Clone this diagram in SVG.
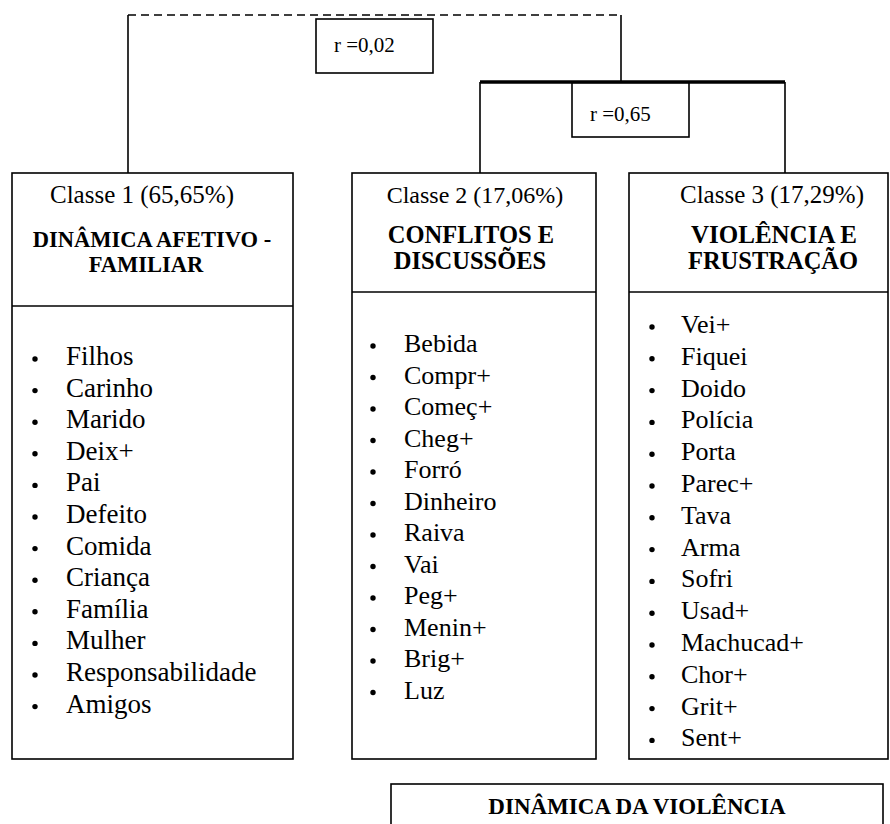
<svg xmlns="http://www.w3.org/2000/svg" width="890" height="824" viewBox="0 0 890 824">
<style>
.box{fill:#fff;stroke:#000;stroke-width:1.6}
.ln{fill:none;stroke:#000;stroke-width:1.6}
.t{font-family:"Liberation Serif","Times New Roman",serif;fill:#000}
.c{text-anchor:middle}
.b{font-weight:bold}
.li{font-size:26px}
.li1{font-size:27px}
</style>
<rect width="890" height="824" fill="#fff"/>
<g id="connectors">
<path class="ln" d="M128,15 H621" stroke-dasharray="8,5"/>
<path class="ln" d="M128,15 V173"/>
<path class="ln" d="M621,15 V81"/>
<path d="M480,82 H785" stroke="#000" stroke-width="3.5" fill="none"/>
<path class="ln" d="M480,82 V173 M785,82 V173"/>
</g>
<g id="r002">
<rect class="box" x="316" y="19" width="117" height="54"/>
<text class="t" x="334" y="52" font-size="21">r =0,02</text>
</g>
<g id="r065">
<rect class="box" x="572" y="83" width="117" height="54"/>
<text class="t" x="590" y="121" font-size="21">r =0,65</text>
</g>
<g id="classe1">
<rect class="box" x="12" y="173" width="281" height="586"/>
<line class="ln" x1="12" y1="306" x2="293" y2="306"/>
<text class="t c" x="142" y="203" font-size="25">Classe 1 (65,65%)</text>
<text class="t c b" x="152" y="247" font-size="22.5">DINÂMICA AFETIVO -</text>
<text class="t c b" x="146" y="272" font-size="22.5">FAMILIAR</text>
<g fill="#000">
<circle cx="35" cy="359" r="2.7"/><circle cx="35" cy="390.6" r="2.7"/><circle cx="35" cy="422.2" r="2.7"/><circle cx="35" cy="453.8" r="2.7"/><circle cx="35" cy="485.4" r="2.7"/><circle cx="35" cy="517" r="2.7"/><circle cx="35" cy="548.6" r="2.7"/><circle cx="35" cy="580.2" r="2.7"/><circle cx="35" cy="611.8" r="2.7"/><circle cx="35" cy="643.4" r="2.7"/><circle cx="35" cy="675" r="2.7"/><circle cx="35" cy="706.6" r="2.7"/>
</g>
<text class="t li1" x="66" y="365">Filhos</text>
<text class="t li1" x="66" y="396.6">Carinho</text>
<text class="t li1" x="66" y="428.2">Marido</text>
<text class="t li1" x="66" y="459.8">Deix+</text>
<text class="t li1" x="66" y="491.4">Pai</text>
<text class="t li1" x="66" y="523">Defeito</text>
<text class="t li1" x="66" y="554.6">Comida</text>
<text class="t li1" x="66" y="586.2">Criança</text>
<text class="t li1" x="66" y="617.8">Família</text>
<text class="t li1" x="66" y="649.4">Mulher</text>
<text class="t li1" x="66" y="681">Responsabilidade</text>
<text class="t li1" x="66" y="712.6">Amigos</text>
</g>
<g id="classe2">
<rect class="box" x="352" y="173" width="244" height="586"/>
<line class="ln" x1="352" y1="292" x2="596" y2="292"/>
<text class="t c" x="475" y="203" font-size="24">Classe 2 (17,06%)</text>
<text class="t c b" x="471" y="243" font-size="24.5">CONFLITOS E</text>
<text class="t c b" x="470" y="269" font-size="24.5">DISCUSSÕES</text>
<g fill="#000">
<circle cx="373" cy="346" r="2.7"/><circle cx="373" cy="377.5" r="2.7"/><circle cx="373" cy="409" r="2.7"/><circle cx="373" cy="440.5" r="2.7"/><circle cx="373" cy="472" r="2.7"/><circle cx="373" cy="503.5" r="2.7"/><circle cx="373" cy="535" r="2.7"/><circle cx="373" cy="566.5" r="2.7"/><circle cx="373" cy="598" r="2.7"/><circle cx="373" cy="629.5" r="2.7"/><circle cx="373" cy="661" r="2.7"/><circle cx="373" cy="692.5" r="2.7"/>
</g>
<text class="t li" x="404" y="352">Bebida</text>
<text class="t li" x="404" y="383.5">Compr+</text>
<text class="t li" x="404" y="415">Começ+</text>
<text class="t li" x="404" y="446.5">Cheg+</text>
<text class="t li" x="404" y="478">Forró</text>
<text class="t li" x="404" y="509.5">Dinheiro</text>
<text class="t li" x="404" y="541">Raiva</text>
<text class="t li" x="404" y="572.5">Vai</text>
<text class="t li" x="404" y="604">Peg+</text>
<text class="t li" x="404" y="635.5">Menin+</text>
<text class="t li" x="404" y="667">Brig+</text>
<text class="t li" x="404" y="698.5">Luz</text>
</g>
<g id="classe3">
<rect class="box" x="629" y="173" width="259" height="586"/>
<line class="ln" x1="629" y1="292" x2="888" y2="292"/>
<text class="t c" x="772" y="203" font-size="25">Classe 3 (17,29%)</text>
<text class="t c b" x="774" y="243" font-size="25">VIOLÊNCIA E</text>
<text class="t c b" x="773" y="269" font-size="24.5">FRUSTRAÇÃO</text>
<g fill="#000">
<circle cx="652" cy="327" r="2.7"/><circle cx="652" cy="358.8" r="2.7"/><circle cx="652" cy="390.6" r="2.7"/><circle cx="652" cy="422.4" r="2.7"/><circle cx="652" cy="454.2" r="2.7"/><circle cx="652" cy="486" r="2.7"/><circle cx="652" cy="517.8" r="2.7"/><circle cx="652" cy="549.6" r="2.7"/><circle cx="652" cy="581.4" r="2.7"/><circle cx="652" cy="613.2" r="2.7"/><circle cx="652" cy="645" r="2.7"/><circle cx="652" cy="676.8" r="2.7"/><circle cx="652" cy="708.6" r="2.7"/><circle cx="652" cy="740.4" r="2.7"/>
</g>
<text class="t li" x="681" y="333">Vei+</text>
<text class="t li" x="681" y="364.8">Fiquei</text>
<text class="t li" x="681" y="396.6">Doido</text>
<text class="t li" x="681" y="428.4">Polícia</text>
<text class="t li" x="681" y="460.2">Porta</text>
<text class="t li" x="681" y="492">Parec+</text>
<text class="t li" x="681" y="523.8">Tava</text>
<text class="t li" x="681" y="555.6">Arma</text>
<text class="t li" x="681" y="587.4">Sofri</text>
<text class="t li" x="681" y="619.2">Usad+</text>
<text class="t li" x="681" y="651">Machucad+</text>
<text class="t li" x="681" y="682.8">Chor+</text>
<text class="t li" x="681" y="714.6">Grit+</text>
<text class="t li" x="681" y="746.4">Sent+</text>
</g>
<g id="dinamica">
<rect class="box" x="391" y="784" width="492" height="60"/>
<text class="t c b" x="637" y="814" font-size="23">DINÂMICA DA VIOLÊNCIA</text>
</g>
</svg>
